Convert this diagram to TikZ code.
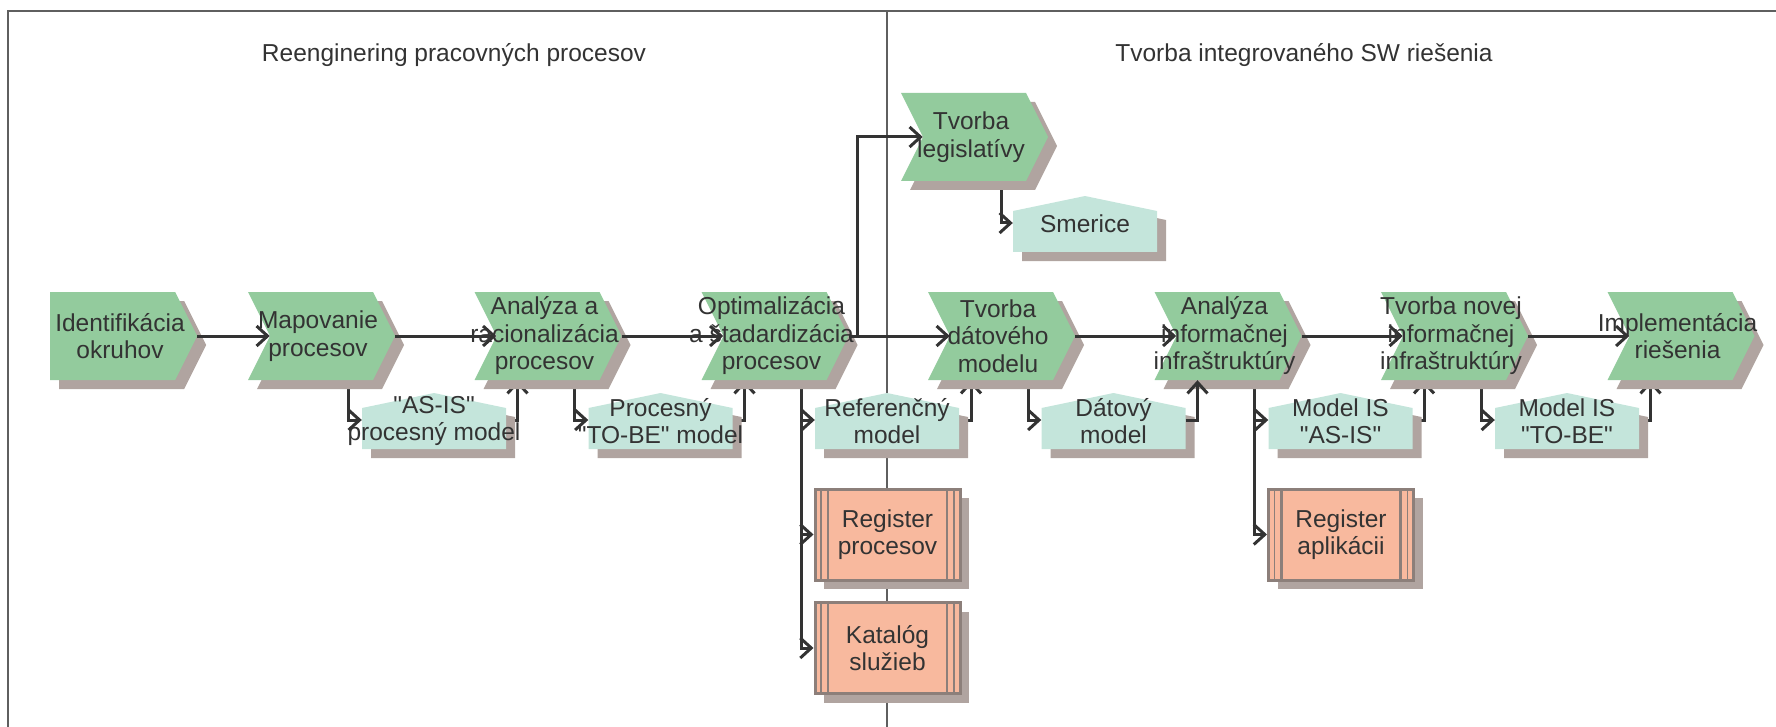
\documentclass[tikz,border=0pt]{standalone}
\usepackage{fontspec}
\setmainfont{Liberation Sans}[Ligatures=TeXOff]
\usetikzlibrary{shapes.symbols,shadows,arrows.meta}

\definecolor{funcgreen}{RGB}{147,203,157}
\definecolor{infoteal}{RGB}{196,229,219}
\definecolor{regsalmon}{RGB}{248,185,158}
\definecolor{shadowgray}{RGB}{176,164,160}
\definecolor{regedge}{RGB}{140,127,122}
\definecolor{inkgray}{RGB}{51,51,51}
\definecolor{framegray}{RGB}{95,95,95}

\pgfdeclarelayer{under}
\pgfsetlayers{under,main}

\tikzset{
	shade9/.style={general shadow={fill=shadowgray, shadow xshift=9pt, shadow yshift=-9pt}},
	func/.style={signal, signal to=east, signal from=west, signal pointer angle=126.87, minimum width=147pt, minimum height=88pt, inner sep=0pt, fill=funcgreen, shade9},
	startfunc/.style={func, signal from=nowhere},
	info/.style={signal, signal to=north, signal from=nowhere, signal pointer angle=156.47, minimum width=144pt, minimum height=41pt, inner sep=0pt, fill=infoteal, shade9},
	regbox/.style={rectangle, minimum width=145pt, minimum height=91pt, inner sep=0pt, fill=regsalmon, draw=regedge, line width=3pt, shade9,
		path picture={
			\draw[regedge, line width=1.5pt] ([xshift=6pt]path picture bounding box.north west) -- ([xshift=6pt]path picture bounding box.south west);
			\draw[regedge, line width=2.5pt] ([xshift=13pt]path picture bounding box.north west) -- ([xshift=13pt]path picture bounding box.south west);
			\draw[regedge, line width=1.5pt] ([xshift=-6pt]path picture bounding box.north east) -- ([xshift=-6pt]path picture bounding box.south east);
			\draw[regedge, line width=2.5pt] ([xshift=-13pt]path picture bounding box.north east) -- ([xshift=-13pt]path picture bounding box.south east);
		}},
	txt/.style={align=center, text=inkgray, font=\fontsize{24.5}{27.5}\selectfont, inner sep=0pt},
	conn/.style={line width=3pt, draw=inkgray, -{Straight Barb[length=11pt,width=20pt]}},
	framebar/.style={line width=1.5pt, draw=framegray},
}

\begin{document}
\begin{tikzpicture}[x=1pt,y=-1pt]
			%%%%% FRAME %%%%%
			\useasboundingbox (0,0) rectangle (1776,727);
			\draw[framebar] (8,727) -- (8,11) -- (1776,11);
			\draw[framebar] (887,11) -- (887,727);
			\node[txt] (lefttitle) at (454,55) {Reenginering pracovných procesov};
			\node[txt] (righttitle) at (1304,55) {Tvorba integrovaného SW riešenia};
			
			%%%%% FUNCTIONS %%%%%
			\node[startfunc, anchor=west] (ident) at (50,336) {};
			\node[txt] (ident-t) at (120,336) {Identifikácia\\okruhov};
			\node[func] (map) at (321.5,336) {};
			\node[txt] (map-t) at (318,336) {Mapovanie\\procesov};
			\node[func] (ana) at (548,336) {};
			\node[txt] (ana-t) at (544.5,336) {Analýza a\\racionalizácia\\procesov};
			\node[func] (opt) at (775,336) {};
			\node[txt] (opt-t) at (771.5,336) {Optimalizácia\\a štadardizácia\\procesov};
			\node[func] (dat) at (1001.5,336) {};
			\node[txt] (dat-t) at (998,336) {Tvorba\\dátového\\modelu};
			\node[func] (inf) at (1228,336) {};
			\node[txt] (inf-t) at (1224.5,336) {Analýza\\informačnej\\infraštruktúry};
			\node[func] (nov) at (1454.5,336) {};
			\node[txt] (nov-t) at (1451,336) {Tvorba novej\\informačnej\\infraštruktúry};
			\node[func] (imp) at (1681,336) {};
			\node[txt] (imp-t) at (1677.5,336) {Implementácia\\riešenia};
			\node[func] (leg) at (974.5,137) {};
			\node[txt] (leg-t) at (971,137) {Tvorba\\legislatívy};
			
			%%%%% INFO OBJECTS %%%%%
			\node[info] (asis) at (434,428.5) {};
			\node[txt] (asis-t) at ([yshift=7.5pt]asis.center) {"AS-IS"\\procesný model};
			\node[info] (tobe) at (660.5,428.5) {};
			\node[txt] (tobe-t) at ([yshift=7.5pt]tobe.center) {Procesný\\"TO-BE" model};
			\node[info] (ref) at (887,428.5) {};
			\node[txt] (ref-t) at ([yshift=7.5pt]ref.center) {Referenčný\\model};
			\node[info] (datm) at (1113.5,428.5) {};
			\node[txt] (datm-t) at ([yshift=7.5pt]datm.center) {Dátový\\model};
			\node[info] (misas) at (1340.5,428.5) {};
			\node[txt] (misas-t) at ([yshift=7.5pt]misas.center) {Model IS\\"AS-IS"};
			\node[info] (mistobe) at (1567,428.5) {};
			\node[txt] (mistobe-t) at ([yshift=7.5pt]mistobe.center) {Model IS\\"TO-BE"};
			\node[info] (smer) at (1085,231.5) {};
			\node[txt] (smer-t) at ([yshift=7.5pt]smer.center) {Smerice};
			
			%%%%% REGISTERS %%%%%
			\node[regbox] (regp) at (887.5,534.5) {};
			\node[txt] (regp-t) at (regp) {Register\\procesov};
			\node[regbox] (kat) at (887.5,648) {};
			\node[txt] (kat-t) at (kat) {Katalóg\\služieb};
			\node[regbox] (rega) at (1341,534.5) {};
			\node[txt] (rega-t) at (rega) {Register\\aplikácii};
			
			%%%%% CONNECTORS %%%%%
			\begin{pgfonlayer}{under}
			\draw[conn] ([xshift=26.5pt]map.south) |- ([yshift=8.5pt]asis.west);
			\draw[conn] ([yshift=8.5pt]asis.east) -| ([xshift=-30.5pt]ana.south);
			\draw[conn] ([xshift=26.5pt]ana.south) |- ([yshift=8.5pt]tobe.west);
			\draw[conn] ([yshift=8.5pt]tobe.east) -| ([xshift=-30.5pt]opt.south);
			\draw[conn] ([xshift=26.5pt]opt.south) |- ([yshift=8.5pt]ref.west);
			\draw[conn] ([xshift=26.5pt]opt.south) |- (regp.west);
			\draw[conn] ([xshift=26.5pt]opt.south) |- (kat.west);
			\draw[conn] ([yshift=8.5pt]ref.east) -| ([xshift=-30.5pt]dat.south);
			\draw[conn] ([xshift=26.5pt]dat.south) |- ([yshift=8.5pt]datm.west);
			\draw[conn] ([xshift=26.5pt]inf.south) |- ([yshift=8.5pt]misas.west);
			\draw[conn] ([xshift=26.5pt]inf.south) |- (rega.west);
			\draw[conn] ([yshift=8.5pt]misas.east) -| ([xshift=-30.5pt]nov.south);
			\draw[conn] ([xshift=26.5pt]nov.south) |- ([yshift=8.5pt]mistobe.west);
			\draw[conn] ([yshift=8.5pt]mistobe.east) -| ([xshift=-30.5pt]imp.south);
			\draw[conn] ([xshift=26.5pt]leg.south) |- ([yshift=8.5pt]smer.west);
			\end{pgfonlayer}
			
			\draw[conn] ([yshift=8.5pt]datm.east) -| ([xshift=-30.5pt]inf.south);
			\draw[conn] (ident.east) -- (map.west);
			\draw[conn] (map.east) -- (ana.west);
			\draw[conn] (ana.east) -- (opt.west);
			\draw[conn] (opt.east) -- (dat.west);
			\draw[conn] (dat.east) -- (inf.west);
			\draw[conn] (inf.east) -- (nov.west);
			\draw[conn] (nov.east) -- (imp.west);
			\coordinate (legsplit) at ([xshift=8.5pt]opt.east);
			\draw[conn] (legsplit) |- (leg.west);
\end{tikzpicture}
\end{document}
